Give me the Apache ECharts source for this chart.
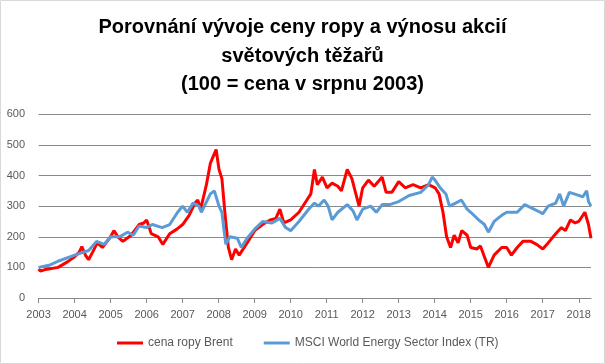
<!DOCTYPE html>
<html>
<head>
<meta charset="utf-8">
<script src="https://cdn.jsdelivr.net/npm/echarts@6/dist/echarts.min.js"></script>
<style>
html,body{margin:0;padding:0;background:#fff;}
#chart{width:605px;height:364px;}
</style>
</head>
<body>
<div id="chart"></div>
<script>
// Tick labels (one per year, first tick = August 2003)
var yearLabels = ['2003','2004','2005','2006','2007','2008','2009','2010','2011','2012','2013','2014','2015','2016','2017','2018'];

// Brent: time in years since Aug 2003, index value
var brentT = [0,0.05,0.16,0.54,0.80,1.00,1.13,1.20,1.31,1.39,1.50,1.63,1.77,2.00,2.09,2.20,2.34,2.57,2.79,2.92,3.00,3.13,3.32,3.45,3.64,3.84,4.00,4.18,4.34,4.42,4.50,4.66,4.77,4.84,4.93,5.01,5.09,5.18,5.27,5.36,5.47,5.57,5.79,6.00,6.22,6.43,6.59,6.70,6.81,7.00,7.23,7.45,7.56,7.66,7.74,7.88,8.01,8.15,8.31,8.41,8.57,8.70,8.81,8.90,9.00,9.16,9.32,9.54,9.65,9.81,10.00,10.18,10.40,10.61,10.83,11.01,11.12,11.23,11.33,11.44,11.54,11.65,11.75,11.90,12.00,12.17,12.27,12.38,12.49,12.65,12.86,13.00,13.13,13.29,13.45,13.67,13.83,14.00,14.15,14.36,14.52,14.63,14.77,14.90,15.00,15.17,15.27,15.34];
var brentV = [95,88,92,100,118,135,150,168,138,125,150,180,165,200,220,200,185,205,240,245,255,210,200,175,210,225,240,270,310,320,290,370,440,460,485,420,390,270,165,125,160,140,180,220,240,255,260,290,245,255,280,320,340,420,370,395,360,375,365,350,420,390,340,300,360,385,365,395,345,345,380,360,370,360,370,360,340,280,200,165,205,180,220,205,165,160,170,135,100,140,165,165,140,165,185,185,175,160,180,210,230,220,255,245,250,280,240,195];

// MSCI World Energy Sector Index (TR)
var msciT = [0,0.32,0.54,1.00,1.39,1.61,1.82,2.00,2.25,2.47,2.63,2.79,3.00,3.16,3.43,3.64,3.86,4.00,4.13,4.29,4.45,4.52,4.77,4.88,5.01,5.09,5.14,5.20,5.31,5.52,5.63,5.79,6.00,6.22,6.48,6.70,6.86,7.00,7.23,7.50,7.66,7.77,7.93,8.04,8.15,8.31,8.57,8.73,8.84,9.00,9.22,9.38,9.54,9.75,10.00,10.29,10.61,10.83,10.93,11.01,11.15,11.31,11.41,11.58,11.74,11.90,12.00,12.22,12.38,12.49,12.65,12.86,13.00,13.29,13.50,13.67,13.93,14.00,14.15,14.36,14.47,14.58,14.74,15.00,15.11,15.22,15.27,15.34];
var msciV = [100,108,120,140,155,185,175,200,200,215,205,235,230,240,230,240,280,300,280,310,300,280,340,350,300,280,230,175,200,195,165,195,225,250,245,260,230,220,250,290,310,300,320,300,255,280,305,285,255,290,300,280,305,305,315,335,345,370,395,385,360,340,300,310,320,290,280,255,240,215,250,270,280,280,305,295,280,275,300,310,340,300,345,335,330,350,315,300];

function zip(t, v){ return t.map(function(x,i){ return [x, v[i]]; }); }
var tickVals = yearLabels.map(function(_, i){ return i; });

var chart = echarts.init(document.getElementById('chart'), null, {renderer:'canvas'});
chart.setOption({
  animation: false,
  backgroundColor: '#fff',
  title: {
    text: 'Porovnání vývoje ceny ropy a výnosu akcií\nsvětových těžařů\n(100 = cena v srpnu 2003)',
    left: 'center',
    top: 13,
    padding: 0,
    textStyle: {fontFamily: 'Liberation Sans', fontSize: 20, fontWeight: 'bold', color: '#000', lineHeight: 28.7, align: 'center'}
  },
  graphic: [{
    type: 'rect', shape: {x: 0.5, y: 0.5, width: 604, height: 363},
    style: {fill: 'none', stroke: '#d9d9d9', lineWidth: 1}, silent: true, z: 100
  }],
  legend: {
    left: 117, top: 337, padding: 0,
    itemWidth: 26, itemHeight: 3, itemGap: 31,
    icon: 'rect',
    textStyle: {fontFamily: 'Liberation Sans', fontSize: 12, color: '#595959'},
    data: ['cena ropy Brent', 'MSCI World Energy Sector Index (TR)']
  },
  grid: {left: 38.6, right: 14, top: 114.3, bottom: 66},
  xAxis: {
    type: 'value', min: 0, max: 15.34,
    axisLine: {show: true, lineStyle: {color: '#898989', width: 1}},
    axisTick: {show: true, length: 5, lineStyle: {color: '#898989'}, customValues: tickVals},
    axisLabel: {
      customValues: tickVals, margin: 11,
      fontFamily: 'Liberation Sans', fontSize: 11, color: '#595959',
      formatter: function(v){ return yearLabels[Math.round(v)] || ''; }
    },
    splitLine: {show: false}
  },
  yAxis: {
    type: 'value', min: 0, max: 600, interval: 100,
    axisLine: {show: false}, axisTick: {show: false},
    axisLabel: {margin: 13.6, fontFamily: 'Liberation Sans', fontSize: 11, color: '#595959'},
    splitLine: {lineStyle: {color: '#898989', width: 1}}
  },
  series: [
    {name: 'cena ropy Brent', type: 'line', showSymbol: false, data: zip(brentT, brentV),
     lineStyle: {color: '#FF0000', width: 3}, itemStyle: {color: '#FF0000'}},
    {name: 'MSCI World Energy Sector Index (TR)', type: 'line', showSymbol: false, data: zip(msciT, msciV),
     lineStyle: {color: '#5B9BD5', width: 3}, itemStyle: {color: '#5B9BD5'}}
  ]
});
</script>
</body>
</html>
